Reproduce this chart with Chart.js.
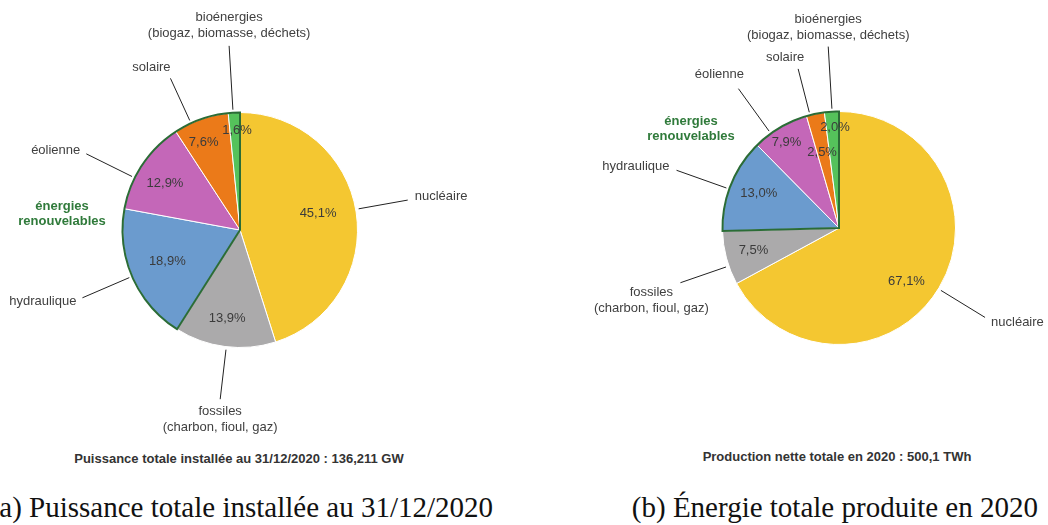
<!DOCTYPE html>
<html lang="fr">
<head>
<meta charset="utf-8">
<script src="https://cdn.jsdelivr.net/npm/chart.js@4.4.1/dist/chart.umd.min.js"></script>
<style>
  body { margin: 0; width: 1048px; height: 525px; background: #fff; position: relative; overflow: hidden;
         font-family: "Liberation Sans", Arial, sans-serif; }
  canvas { position: absolute; top: 0; }
  .note { position: absolute; font-weight: bold; font-size: 13px; color: #333; white-space: nowrap;
          transform: translateX(-50%); line-height: 16px; }
  .cap { position: absolute; font-family: "Liberation Serif", serif; font-size: 29px; color: #111;
         white-space: nowrap; line-height: 32px; }
</style>
</head>
<body>
<canvas id="puissanceChart" width="520" height="445" style="left:0"></canvas>
<canvas id="productionChart" width="528" height="445" style="left:520px"></canvas>
<div class="note" style="left:239px; top:451px">Puissance totale installée au 31/12/2020 : 136,211 GW</div>
<div class="note" style="left:837px; top:449px">Production nette totale en 2020 : 500,1 TWh</div>
<div class="cap" style="right:555px; top:491px">(a) Puissance totale installée au 31/12/2020</div>
<div class="cap" style="right:10px; top:491px">(b) Énergie totale produite en 2020</div>
<script>
// Filières (dans l'ordre horaire depuis midi)
const categories = [
  ['nucléaire'],
  ['fossiles', '(charbon, fioul, gaz)'],
  ['hydraulique'],
  ['éolienne'],
  ['solaire'],
  ['bioénergies', '(biogaz, biomasse, déchets)']
];
// Parts en %
const puissance2020 = [45.1, 13.9, 18.9, 12.9, 7.6, 1.6];
const production2020 = [67.1, 7.5, 13.0, 7.9, 2.5, 2.0];
// indices des énergies renouvelables
const renouvelables = [2, 3, 4, 5];
const groupLabel = ['énergies', 'renouvelables'];

const couleurs = ['#f4c731', '#abaaab', '#6b9bce', '#c467b8', '#eb7a19', '#55c25b'];

// Etiquettes : pourcentages, lignes de rappel, libellés
const pieLabels = {
  id: 'pieLabels',
  afterDatasetsDraw(chart, args, opts) {
    const ctx = chart.ctx;
    const arcs = chart.getDatasetMeta(0).data;
    const values = chart.data.datasets[0].data;
    const cx = arcs[0].x, cy = arcs[0].y, R = arcs[0].outerRadius;
    const deg = Math.PI / 180;
    ctx.save();

    // contour des renouvelables
    const first = arcs[renouvelables[0]], last = arcs[renouvelables[renouvelables.length - 1]];
    ctx.beginPath();
    ctx.moveTo(cx, cy);
    ctx.arc(cx, cy, R, first.startAngle, last.endAngle);
    ctx.closePath();
    ctx.lineWidth = 2;
    ctx.strokeStyle = '#2b6c36';
    ctx.stroke();

    // pourcentages
    ctx.font = '13px "Liberation Sans", Arial, sans-serif';
    ctx.fillStyle = '#3b3b3b';
    ctx.textAlign = 'center';
    ctx.textBaseline = 'middle';
    arcs.forEach((arc, i) => {
      const [da, k] = opts.pct[i];
      const a = (arc.startAngle + arc.endAngle) / 2 + da * deg;
      ctx.fillText(values[i].toFixed(1).replace('.', ',') + '%', cx + Math.cos(a) * R * k, cy + Math.sin(a) * R * k);
    });

    // lignes de rappel + libellés
    ctx.strokeStyle = '#222';
    ctx.lineWidth = 1;
    arcs.forEach((arc, i) => {
      const [da, k, dx, dy, align] = opts.lab[i];
      const a = (arc.startAngle + arc.endAngle) / 2 + da * deg;
      const x0 = cx + Math.cos(a) * (R + 3), y0 = cy + Math.sin(a) * (R + 3);
      const x1 = cx + Math.cos(a) * R * k, y1 = cy + Math.sin(a) * R * k;
      ctx.beginPath();
      ctx.moveTo(x0, y0);
      ctx.lineTo(x1, y1);
      ctx.stroke();
      ctx.fillStyle = '#404040';
      ctx.textAlign = align;
      chart.data.labels[i].forEach((line, j) => ctx.fillText(line, x1 + dx, y1 + dy + j * 16));
    });

    // libellé du groupe
    ctx.font = 'bold 13px "Liberation Sans", Arial, sans-serif';
    ctx.fillStyle = '#2f7a3a';
    ctx.textAlign = 'center';
    groupLabel.forEach((line, j) => ctx.fillText(line, cx + opts.group[0], cy + opts.group[1] + j * 15));
    ctx.restore();
  }
};

function makePie(id, values, size, center, radius, layout) {
  const pad = {
    left: center[0] - radius, right: size[0] - center[0] - radius,
    top: center[1] - radius, bottom: size[1] - center[1] - radius
  };
  return new Chart(document.getElementById(id).getContext('2d'), {
    type: 'pie',
    data: {
      labels: categories,
      datasets: [{
        data: values,
        backgroundColor: couleurs,
        borderColor: '#ffffff',
        borderWidth: 1
      }]
    },
    options: {
      responsive: false,
      animation: false,
      events: [],
      layout: { padding: pad },
      plugins: {
        legend: { display: false },
        tooltip: { enabled: false },
        pieLabels: layout
      }
    },
    plugins: [pieLabels]
  });
}

// Puissance installée
makePie('puissanceChart', puissance2020, [520, 445], [240, 230], 118, {
  pct: [[-3.5, 0.68], [0.9, 0.76], [0, 0.675], [-2, 0.75], [-3, 0.81], [1.2, 0.85]],
  lab: [
    [-1.3, 1.45, 7, -4, 'left'],
    [-0.7, 1.45, 0, 12, 'center'],
    [0.3, 1.46, -6, 4, 'right'],
    [-7.3, 1.46, -6, -3, 'right'],
    [-5.2, 1.42, -19, -11, 'center'],
    [-0.5, 1.57, 0, -28, 'center']
  ],
  group: [-178, -24]
});

// Production nette
makePie('productionChart', production2020, [528, 445], [319, 228], 117, {
  pct: [[7.7, 0.74], [0, 0.76], [1.4, 0.75], [-1.2, 0.86], [-0.9, 0.665], [1.3, 0.865]],
  lab: [
    [0.7, 1.47, 6, 5, 'left'],
    [-4.1, 1.44, -29, 10, 'center'],
    [-2.4, 1.48, -7, -4, 'right'],
    [-5.4, 1.475, -19, -14, 'center'],
    [-2.7, 1.41, -13, -11, 'center'],
    [0.2, 1.56, 0, -27, 'center']
  ],
  group: [-148, -107]
});
</script>
</body>
</html>
